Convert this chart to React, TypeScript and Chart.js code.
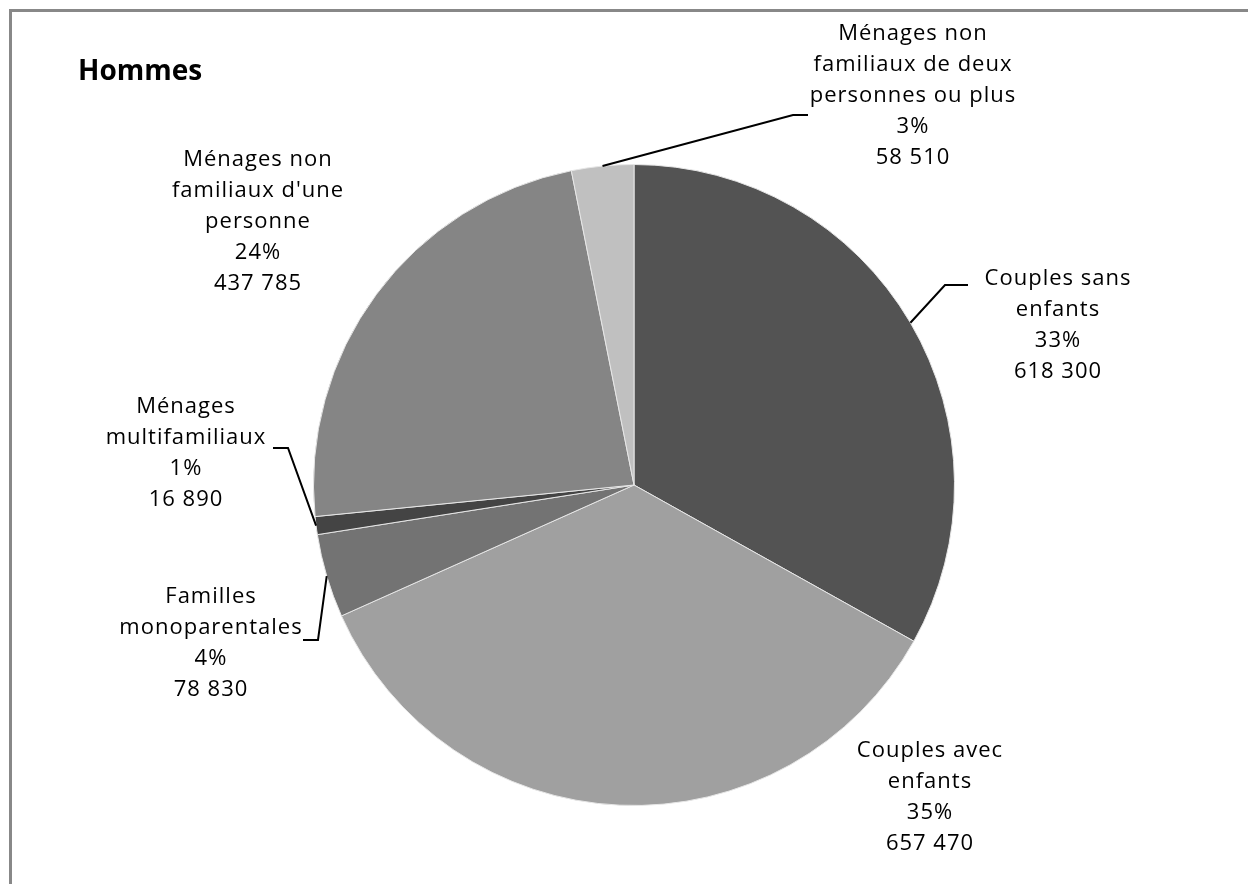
import React, { useEffect, useRef } from "react";
import { Chart, registerables } from "chart.js";

Chart.register(...registerables);

const categories: string[][] = [
  ["Couples sans", "enfants"],
  ["Couples avec", "enfants"],
  ["Familles", "monoparentales"],
  ["Ménages", "multifamiliaux"],
  ["Ménages non", "familiaux d'une", "personne"],
  ["Ménages non", "familiaux de deux", "personnes ou plus"],
];
const values: number[] = [618300, 657470, 78830, 16890, 437785, 58510];
const percentLabels: string[] = ["33%", "35%", "4%", "1%", "24%", "3%"];
const colors: string[] = ["#535353", "#a0a0a0", "#737373", "#444444", "#858585", "#c0c0c0"];
const title = "Hommes";

const FONT = "'Open Sans', 'Noto Sans', sans-serif";
const FONT_SIZE = 22;
const LINE_H = 31;

// label block layout: center x, first line y, leader line bend points
const labelLayout = [
  { cx: 1058, y0: 279, leader: [[968, 285], [945, 285]] },
  { cx: 930, y0: 751, leader: null },
  { cx: 211, y0: 597, leader: [[303, 640], [318, 640]] },
  { cx: 186, y0: 407, leader: [[273, 448], [288, 448]] },
  { cx: 258, y0: 160, leader: null },
  { cx: 913, y0: 34, leader: [[808, 115], [793, 115]] },
];

function fmt(v: number): string {
  return String(v).replace(/\B(?=(\d{3})+(?!\d))/g, " ");
}

const labelPlugin = {
  id: "pieLabels",
  afterDraw(chart: any) {
    const ctx = chart.ctx as CanvasRenderingContext2D;
    const meta = chart.getDatasetMeta(0);
    ctx.save();
    // frame
    ctx.strokeStyle = "#888888";
    ctx.lineWidth = 3;
    ctx.beginPath();
    ctx.moveTo(10.5, 884);
    ctx.lineTo(10.5, 10.5);
    ctx.lineTo(1248, 10.5);
    ctx.stroke();
    // title
    ctx.fillStyle = "#000";
    ctx.font = `bold 28px ${FONT}`;
    ctx.textAlign = "left";
    ctx.textBaseline = "alphabetic";
    ctx.fillText(title, 78, 80);

    ctx.font = `${FONT_SIZE}px ${FONT}`;
    (ctx as any).letterSpacing = "1px";
    ctx.textAlign = "center";
    ctx.textBaseline = "middle";
    categories.forEach((lines, i) => {
      const lay = labelLayout[i];
      const all = [...lines, percentLabels[i], fmt(values[i])];
      all.forEach((t, k) => ctx.fillText(t, lay.cx, lay.y0 + k * LINE_H));
      if (lay.leader) {
        const arc = meta.data[i];
        const mid = (arc.startAngle + arc.endAngle) / 2;
        const r = arc.outerRadius;
        const ax = arc.x + Math.cos(mid) * r;
        const ay = arc.y + Math.sin(mid) * r;
        ctx.strokeStyle = "#000";
        ctx.lineWidth = 2;
        ctx.beginPath();
        ctx.moveTo(lay.leader[0][0], lay.leader[0][1]);
        ctx.lineTo(lay.leader[1][0], lay.leader[1][1]);
        ctx.lineTo(ax, ay);
        ctx.stroke();
      }
    });
    ctx.restore();
  },
};

export default function App() {
  const ref = useRef<HTMLCanvasElement | null>(null);
  useEffect(() => {
    document.body.style.margin = "0";
    const chart = new Chart(ref.current!, {
      type: "pie",
      data: {
        labels: categories.map((c) => c.join(" ")),
        datasets: [
          {
            data: values,
            backgroundColor: colors,
            borderColor: "#e6e6e6",
            borderWidth: 1,
          },
        ],
      },
      options: {
        responsive: false,
        animation: false,
        layout: { padding: { left: 313, right: 293, top: 164, bottom: 78 } },
        plugins: { legend: { display: false }, tooltip: { enabled: false }, title: { display: false } },
      },
      plugins: [labelPlugin],
    });
    return () => chart.destroy();
  }, []);
  return (
    <div style={{ width: 1248, height: 884, background: "#fff" }}>
      <canvas ref={ref} width={1248} height={884} />
    </div>
  );
}
